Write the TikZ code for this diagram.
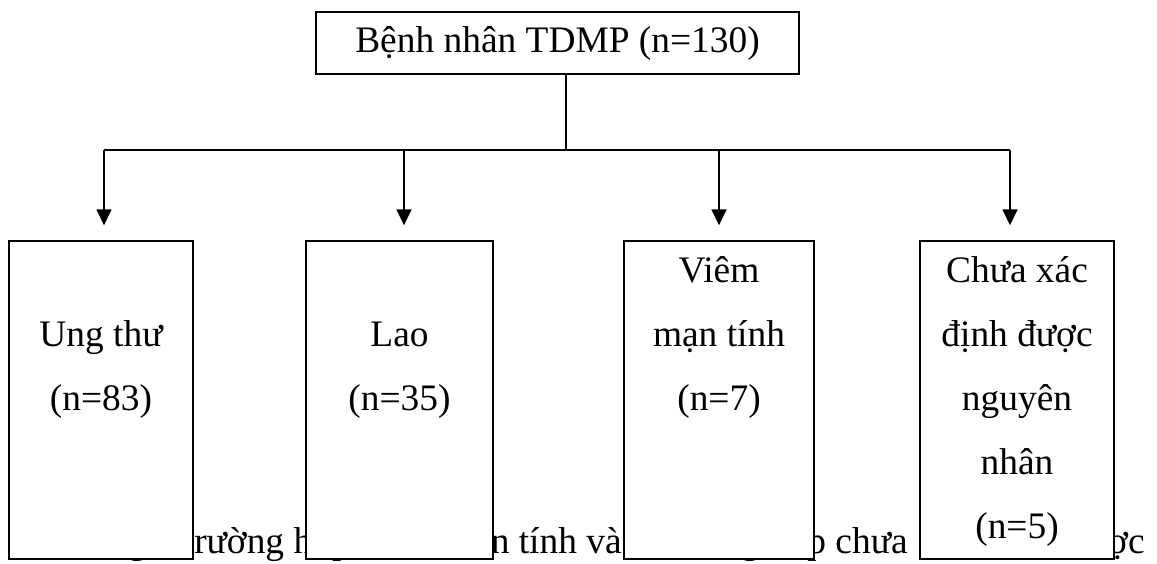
\documentclass[tikz,border=0pt]{standalone}
\usepackage{fontspec}
\setmainfont{Liberation Serif}
\usetikzlibrary{positioning, arrows.meta}

\newcommand{\boxlines}[1]{\begin{tabular}[t]{@{}c@{}}#1\end{tabular}}

\begin{document}
\begin{tikzpicture}[
    x=0.5pt, y=-0.5pt,
    every node/.style={font=\fontsize{18.7pt}{32pt}\selectfont},
    group/.style={rectangle, draw, line width=0.7pt, fill=white, minimum height=159pt, inner sep=0pt},
    grouptext/.style={anchor=base, inner sep=0pt, yshift=-21pt},
    pagetext/.style={anchor=base east, inner sep=0pt},
    link/.style={line width=0.8pt},
    arr/.style={-{Triangle[width=7.5pt,length=8pt]}, line width=0.8pt, shorten >=7.5pt}
]
\useasboundingbox (0,0) rectangle (1157,563);

% line of the page behind the boxes (justified, so set in pieces)
\node[anchor=base west, inner sep=0pt] (sentence-a) at (56,553) {Trong 7 trường hợp};
\node[pagetext] (sentence-b) at (622,553) {viêm mạn tính và};
\node[pagetext] (sentence-c) at (908,553) {5 trường hợp chưa};
\node[pagetext] (sentence-d) at (1145,553) {xác định được};

\node[draw, line width=0.7pt, minimum width=241.5pt, minimum height=31pt] (root) at (557.5,43) {Bệnh nhân TDMP (n=130)};

\node[group, minimum width=92pt] (ungthu) at (101,400) {};
\node[group, minimum width=93.5pt] (lao) at (399.5,400) {};
\node[group, minimum width=95pt] (viem) at (719,400) {};
\node[group, minimum width=97pt] (chuaxd) at (1017,400) {};

\node[grouptext] (ungthu-txt) at (ungthu.north) {\boxlines{\\Ung thư\\(n=83)}};
\node[grouptext] (lao-txt) at (lao.north) {\boxlines{\\Lao\\(n=35)}};
\node[grouptext] (viem-txt) at (viem.north) {\boxlines{Viêm\\mạn tính\\(n=7)}};
\node[grouptext] (chuaxd-txt) at (chuaxd.north) {\boxlines{Chưa xác\\định được\\nguyên\\nhân\\(n=5)}};

\coordinate (split) at (566,150);
\coordinate (d1) at (104,150);
\coordinate (d2) at (404,150);
\coordinate (d3) at (719,150);
\coordinate (d4) at (1010,150);

\draw[link] (root.south -| split) -- (split);
\draw[link] (d1) -- (d4);
\draw[arr] (d1) -- (d1 |- ungthu.north);
\draw[arr] (d2) -- (d2 |- lao.north);
\draw[arr] (d3) -- (d3 |- viem.north);
\draw[arr] (d4) -- (d4 |- chuaxd.north);

\end{tikzpicture}
\end{document}
